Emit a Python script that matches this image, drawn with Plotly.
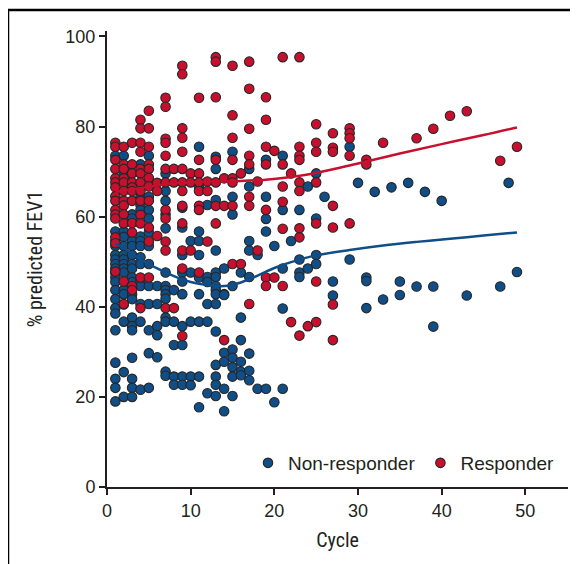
import plotly.graph_objects as go

# ---------------- data ----------------
# Non-responder: % predicted FEV1 per cycle
nr_cycles = [1, 2, 3, 4, 5, 6, 7, 8, 9, 10, 11, 12, 13, 14, 15, 16, 17, 18, 19, 20,
             21, 22, 23, 24, 25, 26, 27, 29, 30, 31, 32, 33, 34, 35, 36, 37, 38, 39,
             40, 43, 47, 48, 49]
nr_values = [
    [73.5, 56.7, 54.6, 53.5, 51.5, 50.5, 49.5, 48.5, 47.5, 46.5, 45.5, 43.7, 41.7, 39.7, 38.5, 34.8, 27.6, 24.0, 22.0, 19.0],
    [73.5, 69.6, 56.7, 55.5, 53.5, 51.5, 50.5, 49.5, 48.5, 47.6, 43.7, 42.8, 40.5, 36.7, 25.5, 20.0],
    [60.5, 59.6, 54.6, 53.5, 51.5, 49.5, 48.5, 46.5, 45.5, 42.8, 41.7, 37.6, 35.7, 34.8, 28.7, 24.0, 22.0, 20.0],
    [71.6, 64.4, 62.6, 61.5, 55.6, 54.6, 53.5, 51.0, 49.5, 45.5, 44.6, 40.6, 36.7, 21.6],
    [73.5, 64.4, 61.5, 59.6, 56.5, 53.5, 49.5, 44.6, 40.6, 34.8, 29.7, 22.0],
    [44.6, 40.6, 35.7, 33.7, 28.8],
    [69.6, 65.7, 63.5, 60.5, 57.4, 47.6, 44.6, 43.7, 42.8, 41.8, 37.6, 36.7, 25.6, 24.7],
    [43.7, 36.7, 31.5, 24.5, 22.7],
    [62.0, 57.6, 51.5, 47.6, 45.6, 42.8, 35.7, 31.5, 24.5, 22.7],
    [54.6, 47.6, 36.7, 24.5, 22.6],
    [75.5, 66.7, 56.7, 54.6, 51.5, 46.5, 42.8, 36.7, 24.5, 17.7],
    [62.6, 46.6, 45.5, 40.6, 36.7, 20.8],
    [73.3, 70.6, 63.7, 52.5, 47.6, 46.6, 44.6, 43.7, 42.8, 40.6, 34.5, 27.1, 24.5, 22.7, 20.2],
    [48.5, 42.8, 42.6, 29.8, 27.8, 21.8, 16.8],
    [74.4, 64.4, 60.5, 44.6, 30.5, 28.7, 26.6, 24.5, 20.2],
    [47.6, 37.6, 32.6, 27.8, 25.6, 24.8],
    [70.6, 66.7, 54.6, 52.5, 46.6, 29.6, 25.8, 23.7],
    [51.5, 21.8],
    [72.6, 64.4, 59.5, 56.7, 21.8],
    [53.5, 18.8],
    [73.5, 61.5, 48.5, 39.6, 21.8],
    [54.6],
    [61.5, 50.5, 47.6, 46.6],
    [66.7, 48.5],
    [69.6, 59.6, 51.5, 49.5],
    [64.4],
    [45.6, 42.5],
    [75.5, 50.5],
    [67.5],
    [46.5, 45.7, 39.7],
    [65.5],
    [41.6],
    [66.5],
    [45.6, 42.6],
    [67.5],
    [44.5],
    [65.5],
    [44.5, 35.6],
    [63.5],
    [42.5],
    [44.5],
    [67.5],
    [47.7],
]

# Responder: % predicted FEV1 per cycle
r_cycles = [1, 2, 3, 4, 5, 6, 7, 8, 9, 10, 11, 12, 13, 14, 15, 16, 17, 18, 19, 20,
            21, 22, 23, 24, 25, 27, 29, 31, 33, 37, 39, 41, 43, 47, 49]
r_values = [
    [76.4, 75.5, 72.6, 70.6, 68.5, 67.6, 66.5, 64.5, 63.5, 61.5, 60.5, 59.6, 55.4, 54.1, 47.8],
    [75.5, 71.6, 70.6, 68.5, 67.6, 65.7, 63.5, 62.5, 60.5, 58.5, 45.6, 40.6],
    [76.4, 71.6, 69.6, 67.6, 66.5, 65.7, 63.5, 58.6, 56.5, 44.6, 43.7],
    [81.5, 79.6, 76.4, 74.4, 70.6, 69.6, 67.6, 65.7, 63.5, 60.4, 58.5, 46.5, 39.7],
    [83.5, 79.6, 75.5, 71.6, 70.6, 68.6, 66.7, 63.5, 57.6, 54.5, 46.5],
    [67.5, 65.7, 55.7],
    [86.4, 84.4, 77.3, 76.4, 73.5, 70.6, 67.6, 61.5, 59.6, 54.5, 52.5, 39.7],
    [70.6, 67.6, 39.7],
    [93.5, 91.6, 79.6, 77.5, 74.4, 70.6, 67.6, 65.7, 62.4, 58.5, 52.5, 48.5, 33.5],
    [69.6, 67.6, 52.5],
    [86.4, 72.6, 69.6, 67.6, 65.7, 62.4, 61.5, 47.6],
    [67.8, 65.7, 54.5],
    [95.4, 94.4, 86.5, 72.6, 67.6, 62.4, 58.5],
    [68.5, 62.4, 32.6],
    [93.5, 82.5, 77.5, 72.6, 68.5, 67.6, 62.4, 49.5],
    [69.6, 49.5],
    [94.4, 88.4, 79.5, 73.5, 71.6, 64.4, 62.4, 40.6],
    [67.8, 52.5],
    [86.5, 81.5, 75.5, 71.6, 61.5, 46.5, 44.6],
    [74.6, 46.5],
    [95.4, 71.6, 66.7, 63.3, 57.3, 44.6],
    [69.6, 36.6],
    [95.4, 75.5, 73.5, 72.6, 67.6, 65.7, 57.4, 55.4, 33.6],
    [35.7],
    [80.5, 76.4, 74.4, 67.6, 58.5, 45.6, 36.6],
    [78.5, 75.3, 74.4, 62.4, 57.6, 40.5, 32.6],
    [79.6, 78.5, 77.4, 73.5, 58.5],
    [72.6, 71.6],
    [76.4],
    [77.4],
    [79.5],
    [82.4],
    [83.4],
    [72.4],
    [75.5],
]

# Smoothed trend lines
nr_trend_cycle = [1, 2, 4, 6, 8, 10, 12, 14, 16, 18, 20, 22, 25, 29, 33, 37, 41, 45, 49]
nr_trend_fev1 = [54.0, 53.0, 50.5, 48.5, 46.8, 45.5, 44.8, 44.6, 45.4, 46.9, 48.6, 49.9,
                 51.4, 52.6, 53.6, 54.4, 55.1, 55.8, 56.5]
r_trend_cycle = [1, 4, 7, 10, 13, 16, 19, 22, 25, 30, 35, 40, 45, 49]
r_trend_fev1 = [65.5, 66.3, 67.2, 67.6, 67.8, 67.9, 68.2, 68.8, 69.7, 71.8, 74.0, 76.1, 78.1, 79.8]

x_ticks = [0, 10, 20, 30, 40, 50]
y_ticks = [0, 20, 40, 60, 80, 100]

series_names = ["Non-responder", "Responder"]
x_title = "Cycle"
y_title = "% predicted FEV1"

# ---------------- styling ----------------
BLUE = "#0f4e87"
RED = "#c8102e"
INK = "#231f20"
TICK_FONT = "Liberation Sans, Arial, Helvetica, sans-serif"
TITLE_FONT = "Roboto Condensed, Liberation Sans Narrow, DejaVu Sans Condensed, Roboto, sans-serif"

# The page body has an 8px margin; the figure is sized to fill the rest of the window.
OFF = 8
WIN_W, WIN_H = 578, 564
W, H = WIN_W - OFF, WIN_H - OFF
# plot area in window pixels
PL, PR, PT, PB = 107, 568, 31, 487
ML, MR, MT, MB = PL - OFF, W - (PR - OFF), PT - OFF, H - (PB - OFF)


fig = go.Figure()


def expand(cycles, values):
    xs, ys = [], []
    for c, vals in zip(cycles, values):
        for v in vals:
            xs.append(c)
            ys.append(v)
    return xs, ys


nr_x, nr_y = expand(nr_cycles, nr_values)
r_x, r_y = expand(r_cycles, r_values)

fig.add_trace(go.Scatter(
    x=nr_x, y=nr_y, mode="markers", name=series_names[0],
    marker=dict(size=9.5, color=BLUE, line=dict(color="#262626", width=1.1)),
))
fig.add_trace(go.Scatter(
    x=r_x, y=r_y, mode="markers", name=series_names[1],
    marker=dict(size=9.5, color=RED, line=dict(color="#262626", width=1.1)),
))
fig.add_trace(go.Scatter(
    x=nr_trend_cycle, y=nr_trend_fev1, mode="lines", showlegend=False,
    line=dict(color=BLUE, width=2.5, shape="spline"),
))
fig.add_trace(go.Scatter(
    x=r_trend_cycle, y=r_trend_fev1, mode="lines", showlegend=False,
    line=dict(color=RED, width=2.5, shape="spline"),
))

pw = PR - PL
ph = PB - PT


def wx(px):
    """window x pixel -> paper x"""
    return (px - PL) / pw


def wy(py):
    """window y pixel -> paper y"""
    return (PB - py) / ph


fig.update_layout(
    width=W, height=H,
    margin=dict(l=ML, r=MR, t=MT, b=MB, pad=0),
    paper_bgcolor="white", plot_bgcolor="white",
    showlegend=True,
    legend=dict(
        orientation="h", x=wx(560), xanchor="right", y=wy(463), yanchor="middle",
        font=dict(family=TICK_FONT, size=19, color=INK),
        bgcolor="rgba(0,0,0,0)", itemwidth=30, tracegroupgap=0,
    ),
    xaxis=dict(
        range=[0, 55.1], tickvals=x_ticks, showgrid=False, zeroline=False,
        showline=True, linecolor=INK, linewidth=2,
        ticks="outside", ticklen=6, tickwidth=2, tickcolor=INK,
        tickfont=dict(family=TICK_FONT, size=18, color=INK),
        title=dict(text=x_title, font=dict(family=TITLE_FONT, size=20, color=INK), standoff=13),
    ),
    yaxis=dict(
        range=[0, 101.2], tickvals=y_ticks, showgrid=False, zeroline=False,
        showline=True, linecolor=INK, linewidth=2,
        ticks="outside", ticklen=6, tickwidth=2, tickcolor=INK,
        tickfont=dict(family=TICK_FONT, size=18, color=INK),
        title=dict(text=y_title, font=dict(family=TITLE_FONT, size=20, color=INK), standoff=17),
    ),
    shapes=[
        dict(type="line", xref="paper", yref="paper",
             x0=wx(8), x1=wx(WIN_W + 5), y0=wy(10), y1=wy(10),
             line=dict(color="black", width=2.5)),
        dict(type="line", xref="paper", yref="paper",
             x0=wx(8), x1=wx(8), y0=wy(10), y1=wy(WIN_H + 5),
             line=dict(color="black", width=2.5)),
    ],
)

fig.write_html("out.html")
